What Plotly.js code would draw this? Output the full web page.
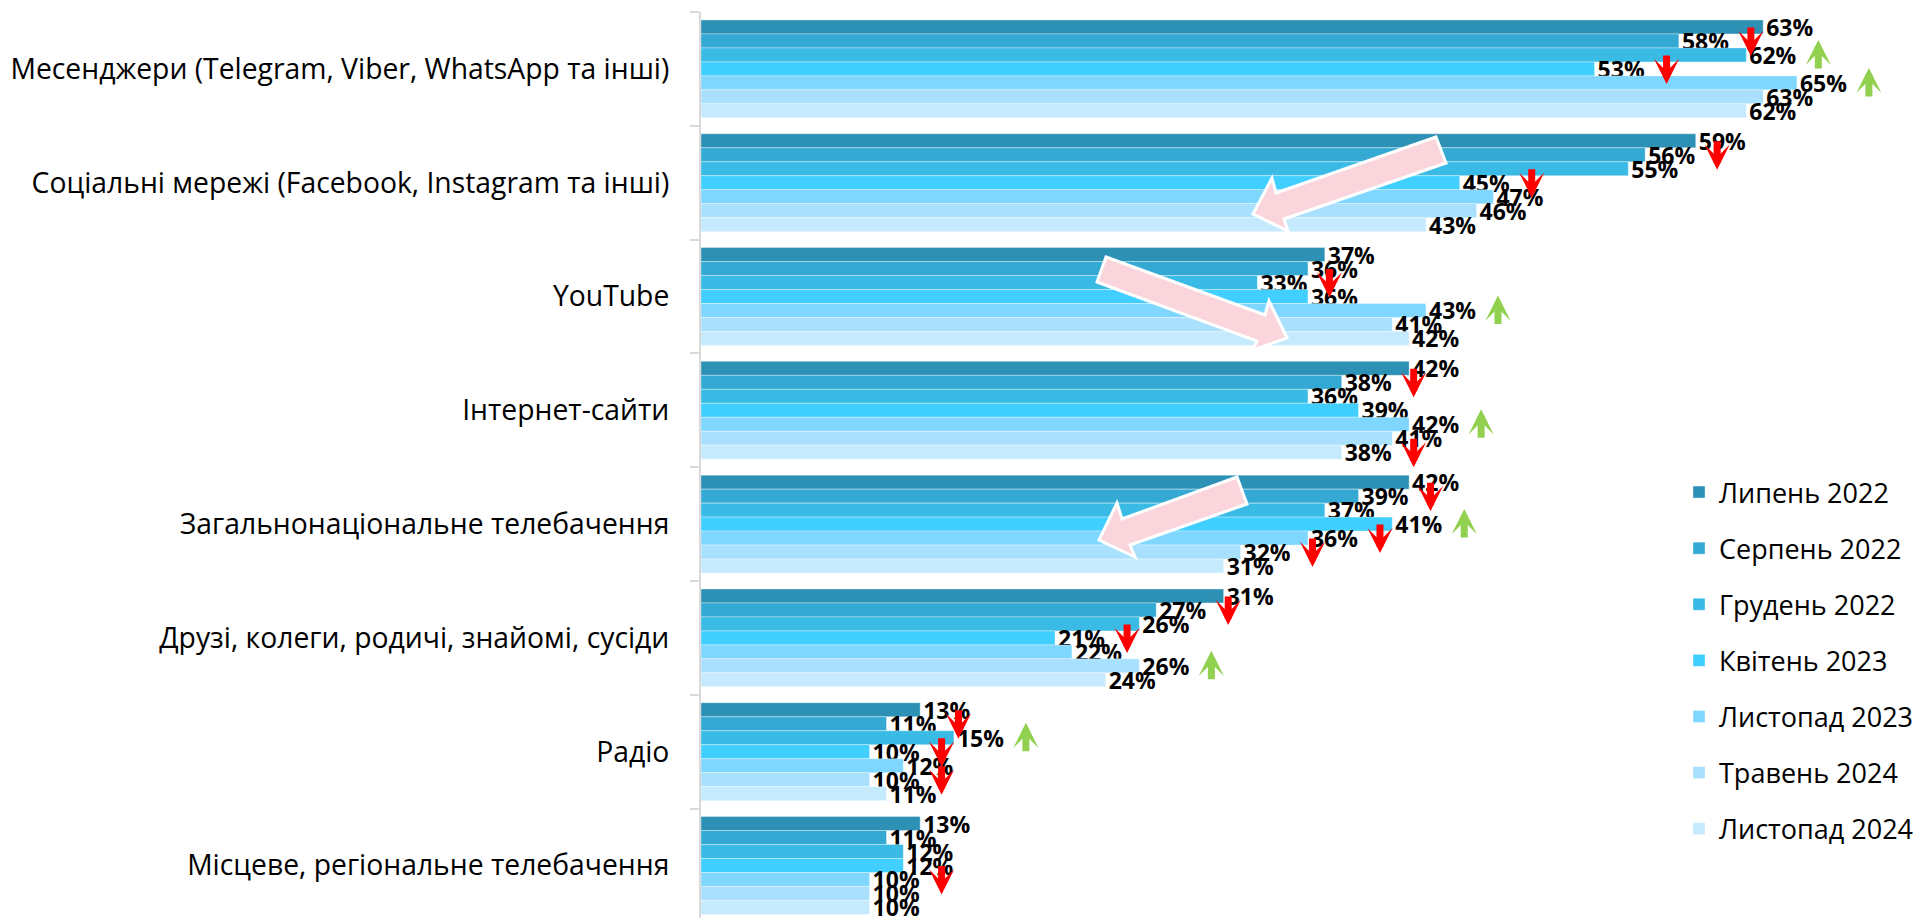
<!DOCTYPE html>
<html>
<head>
<meta charset="utf-8">
<script src="https://cdn.plot.ly/plotly-3.0.1.min.js"></script>
<style>html,body{margin:0;padding:0;background:#fff;}#chart{width:1921px;height:918px;}</style>
</head>
<body>
<div id="chart"></div>
<script>
// ---- data ----
const categories = [
  'Месенджери (Telegram, Viber, WhatsApp та інші)',
  'Соціальні мережі (Facebook, Instagram та інші)',
  'YouTube',
  'Інтернет-сайти',
  'Загальнонаціональне телебачення',
  'Друзі, колеги, родичі, знайомі, сусіди',
  'Радіо',
  'Місцеве, регіональне телебачення'
];
const seriesNames = ['Липень 2022','Серпень 2022','Грудень 2022','Квітень 2023','Листопад 2023','Травень 2024','Листопад 2024'];
const jul2022 = [63, 59, 37, 42, 42, 31, 13, 13];
const aug2022 = [58, 56, 36, 38, 39, 27, 11, 11];
const dec2022 = [62, 55, 33, 36, 37, 26, 15, 12];
const apr2023 = [53, 45, 36, 39, 41, 21, 10, 12];
const nov2023 = [65, 47, 43, 42, 36, 22, 12, 10];
const may2024 = [63, 46, 41, 41, 32, 26, 10, 10];
const nov2024 = [62, 43, 42, 38, 31, 24, 11, 10];
const seriesValues = [jul2022, aug2022, dec2022, apr2023, nov2023, may2024, nov2024];
// change markers: category index, series index, direction
const changeCat    = [0,0,0,0, 1,1, 2,2, 3,3,3, 4,4,4,4, 5,5,5, 6,6,6,6, 7];
const changeSeries = [1,2,3,4, 1,3, 2,4, 1,4,6, 1,3,4,5, 1,3,5, 1,2,3,5, 4];
const changeDir    = ['down','up','down','up', 'down','down', 'down','up', 'down','up','down',
                      'down','up','down','down', 'down','down','up', 'down','up','down','down', 'down'];

// ---- style ----
const colors = ['#2C91B5','#34A9D3','#3ABBE6','#41CFFF','#7FD7FF','#A8E0FD','#C6EAFD'];
const FONT = 'Open Sans, Noto Sans, sans-serif';
const BARGAP = 0.14;
const L = 701, R = 40, T = 12, B = 0, W = 1921, H = 918;
const PW = W - L - R, PH = H - T - B;

const traces = seriesNames.map((name, i) => ({
  type: 'bar',
  orientation: 'h',
  name: name,
  legendgroup: 'g' + i,
  y: categories,
  x: seriesValues[i],
  marker: {color: colors[i], line: {color: 'rgba(255,255,255,0.35)', width: 1}},
  texttemplate: '%{x}%',
  textposition: 'outside',
  constraintext: 'none',
  cliponaxis: false,
  textfont: {family: FONT, size: 23, weight: 700, color: '#000'},
  hoverinfo: 'skip'
}));

// change arrows tied to the bars
const nS = seriesNames.length;
const slot = (1 - BARGAP) / nS;
const annotations = changeCat.map((c, k) => {
  const s = changeSeries[k];
  const up = changeDir[k] === 'up';
  return {
    x: seriesValues[s][c], xref: 'x',
    y: c + (s - (nS - 1) / 2) * slot, yref: 'y',
    xshift: 72, yshift: up ? 15 : -15,
    text: '', showarrow: true,
    ax: 0, ay: up ? 30 : -30,
    arrowhead: 3, arrowsize: 0.6, arrowwidth: 7,
    arrowcolor: up ? '#92D050' : '#FF0000', standoff: 0
  };
});

// decorative pink block arrows (pixel outlines of the reference callouts)
const callouts = [
  [[1436,137],[1276,193],[1272,178],[1253,214],[1288,231],[1284,219],[1446,163]],
  [[1106,257],[1265,315],[1269,301],[1287,338],[1253,350],[1257,341],[1097,282]],
  [[1237,477],[1122,519],[1117,503],[1099,540],[1135,557],[1130,545],[1247,504]]
];
const shapes = callouts.map(pts => ({
  type: 'path', xref: 'paper', yref: 'paper', layer: 'above',
  path: pts.map((p, j) => (j ? 'L' : 'M') + ((p[0] - L) / PW).toFixed(5) + ',' + (1 - (p[1] - T) / PH).toFixed(5)).join(' ') + ' Z',
  fillcolor: '#FBD5DC', line: {color: '#FFFFFF', width: 3}
}));

const bandPx = 113.8;
const layout = {
  width: W, height: H,
  margin: {l: L, r: R, t: T, b: B, pad: 0},
  paper_bgcolor: '#fff', plot_bgcolor: '#fff',
  barmode: 'group', bargap: BARGAP, bargroupgap: 0,
  font: {family: FONT, color: '#000'},
  showlegend: true,
  legend: {
    x: (1679 - L) / PW, xref: 'paper', xanchor: 'left',
    y: 1 - (468 - T) / PH, yanchor: 'top',
    traceorder: 'grouped', tracegroupgap: 18,
    font: {family: FONT, size: 27, color: '#000'},
    bgcolor: 'rgba(0,0,0,0)', borderwidth: 0
  },
  xaxis: {range: [0, PW / 16.86], visible: false, fixedrange: true},
  yaxis: {
    type: 'category',
    range: [PH / bandPx - 0.5, -0.5],
    showline: true, linecolor: '#D9D9D9', linewidth: 2,
    ticks: 'outside', tickson: 'boundaries', ticklen: 9, tickwidth: 2, tickcolor: '#D9D9D9',
    showgrid: false, zeroline: false,
    tickfont: {family: FONT, size: 28.3, color: '#000'},
    ticklabelstandoff: 24,
    fixedrange: true
  },
  annotations: annotations,
  shapes: shapes
};

Plotly.newPlot('chart', traces, layout, {displayModeBar: false, staticPlot: true});
</script>
</body>
</html>
